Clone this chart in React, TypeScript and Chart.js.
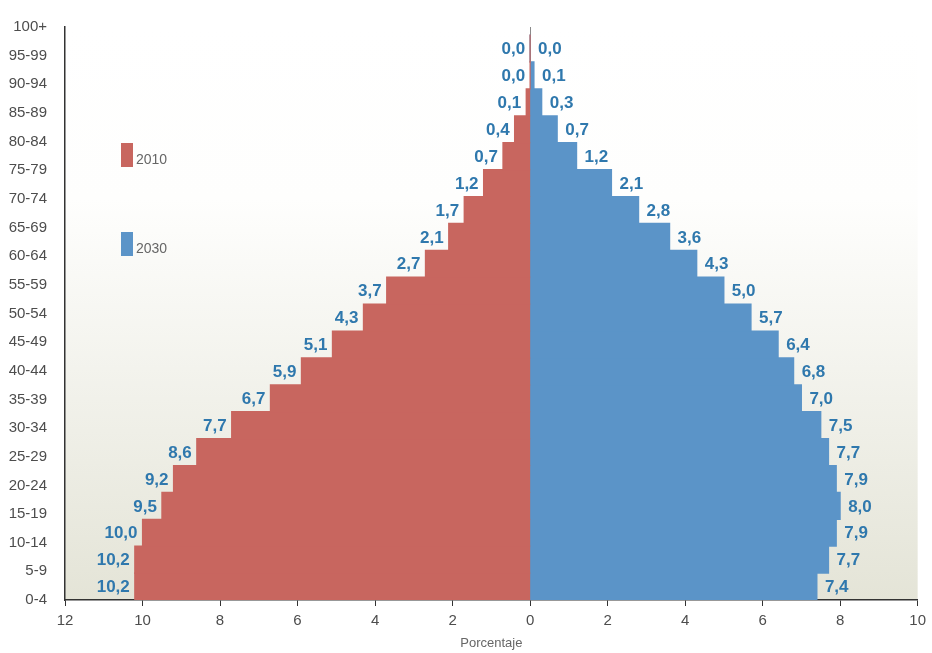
import React, { useEffect, useRef } from 'react';
import { Chart, registerables } from 'chart.js';

Chart.register(...registerables);

// Age groups, bottom (youngest) to top (oldest)
const ageGroups = [
  '0-4', '5-9', '10-14', '15-19', '20-24', '25-29', '30-34', '35-39', '40-44', '45-49',
  '50-54', '55-59', '60-64', '65-69', '70-74', '75-79', '80-84', '85-89', '90-94', '95-99', '100+',
];

// Percentage of population per age group
const values2010 = [
  10.2, 10.2, 10.0, 9.5, 9.2, 8.6, 7.7, 6.7, 5.9, 5.1,
  4.3, 3.7, 2.7, 2.1, 1.7, 1.2, 0.7, 0.4, 0.1, 0.0, 0.0,
];
const values2030 = [
  7.4, 7.7, 7.9, 8.0, 7.9, 7.7, 7.5, 7.0, 6.8, 6.4,
  5.7, 5.0, 4.3, 3.6, 2.8, 2.1, 1.2, 0.7, 0.3, 0.1, 0.0,
];

const seriesNames = ['2010', '2030'];
const xTicksMin = -12;
const xTicksMax = 10;
const xTickStep = 2;
const xTitle = 'Porcentaje';

const RED = '#c8665f';
const BLUE = '#5b94c8';
const LABEL_COLOR = '#2f78ad';
const TICK_COLOR = '#4d4d4d';
const FONT = '"Liberation Sans", Arial, Helvetica, sans-serif';

const backgroundPlugin = {
  id: 'plotBackground',
  beforeDraw(chart: any) {
    const { ctx, chartArea } = chart;
    if (!chartArea) return;
    const g = ctx.createLinearGradient(0, chartArea.top, 0, chartArea.bottom);
    g.addColorStop(0, '#ffffff');
    g.addColorStop(0.3, '#fefefd');
    g.addColorStop(1, '#e4e4d7');
    ctx.save();
    ctx.fillStyle = g;
    ctx.fillRect(chartArea.left, chartArea.top, chartArea.right - chartArea.left, chartArea.bottom - chartArea.top);
    ctx.restore();
  },
};

const valueLabelsPlugin = {
  id: 'valueLabels',
  afterDatasetsDraw(chart: any) {
    const ctx = chart.ctx;
    ctx.save();
    ctx.font = `bold 17px ${FONT}`;
    ctx.fillStyle = LABEL_COLOR;
    ctx.textBaseline = 'middle';
    chart.data.datasets.forEach((ds: any, di: number) => {
      const meta = chart.getDatasetMeta(di);
      meta.data.forEach((el: any, i: number) => {
        const raw = ds.data[i].x;
        const txt = Math.abs(raw).toFixed(1).replace('.', ',');
        if (di === 0) {
          ctx.textAlign = 'right';
          ctx.fillText(txt, el.x - 5, el.y + 1);
        } else {
          ctx.textAlign = 'left';
          ctx.fillText(txt, el.x + 8, el.y + 1);
        }
      });
    });
    ctx.restore();
  },
};

const legendPlugin = {
  id: 'sideLegend',
  afterDraw(chart: any) {
    const ctx = chart.ctx;
    ctx.save();
    const items = chart.data.datasets.map((d: any) => ({ label: d.label, color: d.backgroundColor }));
    const positions = [143, 232];
    items.forEach((it: any, i: number) => {
      const y = positions[i];
      ctx.fillStyle = it.color;
      ctx.fillRect(121, y, 12, 24);
      ctx.fillStyle = '#666666';
      ctx.font = `14px ${FONT}`;
      ctx.textAlign = 'left';
      ctx.textBaseline = 'middle';
      ctx.fillText(it.label, 136, y + 17);
    });
    ctx.restore();
  },
};

export default function App() {
  const canvasRef = useRef<HTMLCanvasElement | null>(null);

  useEffect(() => {
    document.body.style.margin = '0';
    const canvas = canvasRef.current;
    if (!canvas) return;

    const chart = new Chart(canvas, {
      type: 'bar',
      data: {
        datasets: [
          {
            label: seriesNames[0],
            data: values2010.map((v, i) => ({ x: -v, y: i })),
            backgroundColor: RED,
          } as any,
          {
            label: seriesNames[1],
            data: values2030.map((v, i) => ({ x: v, y: i })),
            backgroundColor: BLUE,
          } as any,
        ],
      },
      options: {
        indexAxis: 'y',
        animation: false,
        responsive: false,
        maintainAspectRatio: false,
        datasets: {
          bar: { barPercentage: 1, categoryPercentage: 1, grouped: false, borderWidth: 0, inflateAmount: 0.6 },
        } as any,
        layout: { padding: { top: 22, right: 12, bottom: 0, left: 0 } },
        plugins: {
          legend: { display: false },
          tooltip: { enabled: false },
        },
        scales: {
          x: {
            type: 'linear',
            min: xTicksMin,
            max: xTicksMax,
            ticks: {
              stepSize: xTickStep,
              color: TICK_COLOR,
              font: { family: FONT, size: 15 },
              padding: 6,
              callback: (v: any) => String(Math.abs(Number(v))),
            },
            grid: {
              color: (c: any) => (c.tick && c.tick.value === 0 ? '#8a8a8a' : 'rgba(0,0,0,0)'),
              tickColor: '#333333',
              tickLength: 6,
              drawOnChartArea: true,
            },
            border: { display: true, color: '#333333', width: 1.5 },
            title: {
              display: true,
              text: xTitle,
              color: '#666666',
              font: { family: FONT, size: 13 },
              padding: { top: 0, bottom: 2 },
            },
            afterFit: (s: any) => {
              s.height = 53;
            },
          },
          y: {
            type: 'linear',
            display: false,
            offset: false,
            bounds: 'data',
            grace: 0,
            grid: { offset: false },
            min: -0.5,
            max: ageGroups.length - 0.2,
          },
          y2: {
            type: 'category',
            labels: ageGroups,
            reverse: true,
            offset: false,
            position: 'left',
            grid: { display: true, drawOnChartArea: false, drawTicks: false, color: 'rgba(0,0,0,0)', offset: false },
            border: { display: true, color: '#333333', width: 1.5 },
            ticks: {
              color: TICK_COLOR,
              font: { family: FONT, size: 15 },
              padding: 18,
              autoSkip: false,
            },
            afterFit: (s: any) => {
              s.width = 65;
            },
          },
        } as any,
      },
      plugins: [backgroundPlugin, valueLabelsPlugin, legendPlugin],
    });

    return () => {
      chart.destroy();
    };
  }, []);

  return (
    <div style={{ width: 932, height: 653, position: 'relative' }}>
      <canvas ref={canvasRef} width={932} height={653} style={{ width: 932, height: 653, display: 'block' }} />
    </div>
  );
}
